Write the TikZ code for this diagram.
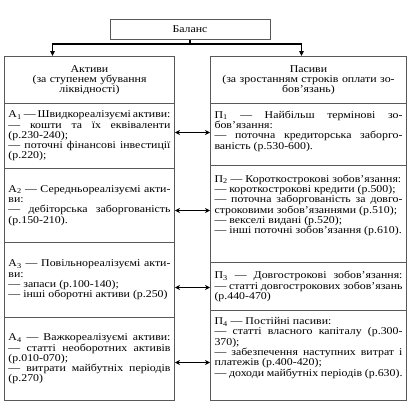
\documentclass[tikz,border=0pt]{standalone}
\usepackage{fontspec}
\setmainfont{Liberation Serif}[FakeStretch=1.14]
\usetikzlibrary{arrows.meta}
\hyphenpenalty=10000
\exhyphenpenalty=10000
\begin{document}
\begin{tikzpicture}[x=1pt, y=-1pt,
    box/.style={draw=black!65, line width=1pt, anchor=north west, inner sep=4pt, font=\fontsize{10.4}{10.3}\selectfont},
    leftbox/.style={box, text width=162pt, minimum width=170pt, align=justify},
    rightbox/.style={box, text width=188pt, minimum width=196pt, align=justify},
    head/.style={align=center},
    lift/.style={execute at end node={\endgraf\vspace{#1}}},
    branch/.style={line width=1.2pt, {Triangle[length=5pt,width=4.5pt]}-{Triangle[length=5pt,width=4.5pt]}},
    link/.style={line width=1.2pt, {Stealth[length=5pt,width=5pt]}-{Stealth[length=5pt,width=5pt]}}
]
\useasboundingbox (0,0) rectangle (410,410);
\node[box, minimum width=160pt, minimum height=20pt, anchor=center] at (190,29) (balans) {Баланс};

\node[leftbox, head, minimum height=47pt] at (4,56) (hdrA) {Активи\\(за ступенем убування\\ліквідності)};
\node[leftbox, minimum height=65pt] at (4,103) (a1) {А\textsubscript{1} — Швидкореалізуємі активи:\linebreak — кошти та їх еквіваленти\linebreak (р.230-240);\\— поточні фінансові інвестиції\linebreak (р.220);};
\node[leftbox, minimum height=74pt] at (4,168) (a2) {А\textsubscript{2} — Середньореалізуємі акти-\linebreak ви:\\— дебіторська заборгованість\linebreak (р.150-210).};
\node[leftbox, minimum height=75pt] at (4,242) (a3) {А\textsubscript{3} — Повільнореалізуємі акти-\linebreak ви:\\— запаси (р.100-140);\\— інші оборотні активи (р.250)};
\node[leftbox, minimum height=83pt] at (4,317) (a4) {А\textsubscript{4} — Важкореалізуємі активи:\linebreak — статті необоротних активів\linebreak (р.010-070);\\— витрати майбутніх періодів\linebreak (р.270)};

\node[rightbox, head, minimum height=47pt] at (210,56) (hdrP) {Пасиви\\(за зростанням строків оплати зо-\\бов’язань)};
\node[rightbox, lift=7pt, minimum height=62pt] at (210,103) (p1) {П\textsubscript{1} — Найбільш термінові зо-\linebreak бов’язання:\\— поточна кредиторська заборго-\linebreak ваність (р.530-600).};
\node[rightbox, lift=17pt, minimum height=97pt] at (210,165) (p2) {П\textsubscript{2} — Короткострокові зобов’язання:\\— короткострокові кредити (р.500);\\— поточна заборгованість за довго-\linebreak строковими зобов’язаннями (р.510);\\— векселі видані (р.520);\\— інші поточні зобов’язання (р.610).};
\node[rightbox, minimum height=48pt] at (210,262) (p3) {П\textsubscript{3} — Довгострокові зобов’язання:\linebreak — статті довгострокових зобов’язань\linebreak (р.440-470)};
\node[rightbox, lift=15pt, minimum height=90pt] at (210,310) (p4) {П\textsubscript{4} — Постійні пасиви:\\— статті власного капіталу (р.300-\linebreak 370);\\— забезпечення наступних витрат і\linebreak платежів (р.400-420);\\— доходи майбутніх періодів (р.630).};

\coordinate (fork) at (balans.south |- 0,44);
\draw[line width=1.2pt] (balans.south) -- (fork);
\draw[branch] ([xshift=-37pt]hdrA.north) |- (fork) -| ([xshift=-7pt]hdrP.north);

\draw[link] ([yshift=3.5pt]a1.east) -- ([yshift=3.5pt]a1.east -| p1.west);
\draw[link] ([yshift=-5pt]a2.east) -- ([yshift=-5pt]a2.east -| p2.west);
\draw[link] ([yshift=-7.5pt]a3.east) -- ([yshift=-7.5pt]a3.east -| p3.west);
\draw[link] ([yshift=-3.5pt]a4.east) -- ([yshift=-3.5pt]a4.east -| p4.west);
\end{tikzpicture}
\end{document}
